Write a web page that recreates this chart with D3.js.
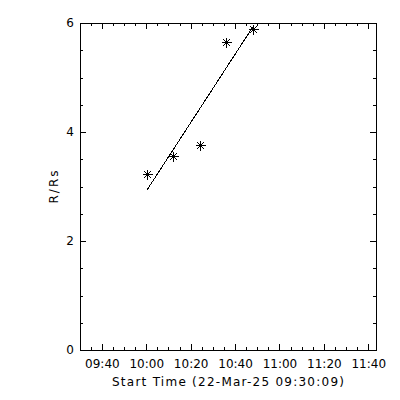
<!DOCTYPE html>
<html>
<head>
<meta charset="utf-8">
<script src="https://cdn.jsdelivr.net/npm/d3@7"></script>
<style>
  body { margin: 0; background: #fff; }
  text { font-family: "DejaVu Sans", sans-serif; font-size: 12px; fill: #000; }
</style>
</head>
<body>
<svg id="chart"></svg>
<script>
// observation times (UT) and heights in solar radii
const obsDate = "2025-03-22";
const startTime = "09:30:09";
const obsTimes = ["10:00:24", "10:11:54", "10:24:12", "10:35:55", "10:48:12"];
const heights = [3.23, 3.56, 3.77, 5.65, 5.89];

// linear fit line, end points
const fitTimes = ["10:00:24", "10:48:12"];
const fitHeights = [2.94, 5.94];

const yMajor = [0, 2, 4, 6];
const xLabel = "Start Time (22-Mar-25 09:30:09)";
const yLabel = "R/Rs";

const width = 400, height = 400;
const parse = d3.utcParse("%Y-%m-%d %H:%M:%S");
const t0 = parse(obsDate + " " + startTime);
const t1 = new Date(t0.getTime() + 8000 * 1000);

const x = d3.scaleUtc().domain([t0, t1]).range([80, 376]);
const y = d3.scaleLinear().domain([0, 6]).range([350, 23]);

const svg = d3.select("#chart")
    .attr("width", width)
    .attr("height", height);

svg.append("rect")
    .attr("width", width).attr("height", height)
    .attr("fill", "#fff");

// axes: major + minor ticks on all four sides, pointing inward
function styleAxis(g) {
    g.select(".domain").remove();
    g.selectAll("line").attr("stroke", "#000").attr("shape-rendering", "crispEdges");
    g.attr("font-size", null).attr("font-family", null);
}

const fmt = d3.utcFormat("%H:%M");

svg.append("g")
    .attr("transform", "translate(0,350)")
    .call(d3.axisBottom(x).ticks(d3.utcMinute.every(20)).tickFormat(fmt)
        .tickSizeInner(-6).tickSizeOuter(0).tickPadding(9))
    .call(styleAxis);
svg.append("g")
    .attr("transform", "translate(0,350)")
    .call(d3.axisBottom(x).ticks(d3.utcMinute.every(5)).tickFormat("")
        .tickSizeInner(-3).tickSizeOuter(0))
    .call(styleAxis);
svg.append("g")
    .attr("transform", "translate(0,23)")
    .call(d3.axisTop(x).ticks(d3.utcMinute.every(20)).tickFormat("")
        .tickSizeInner(-6).tickSizeOuter(0))
    .call(styleAxis);
svg.append("g")
    .attr("transform", "translate(0,23)")
    .call(d3.axisTop(x).ticks(d3.utcMinute.every(5)).tickFormat("")
        .tickSizeInner(-3).tickSizeOuter(0))
    .call(styleAxis);

svg.append("g")
    .attr("transform", "translate(80,0)")
    .call(d3.axisLeft(y).tickValues(yMajor).tickFormat(d3.format("d"))
        .tickSizeInner(-6).tickSizeOuter(0).tickPadding(6))
    .call(styleAxis);
svg.append("g")
    .attr("transform", "translate(80,0)")
    .call(d3.axisLeft(y).ticks(12).tickFormat("")
        .tickSizeInner(-3).tickSizeOuter(0))
    .call(styleAxis);
svg.append("g")
    .attr("transform", "translate(376,0)")
    .call(d3.axisRight(y).tickValues(yMajor).tickFormat("")
        .tickSizeInner(-6).tickSizeOuter(0))
    .call(styleAxis);
svg.append("g")
    .attr("transform", "translate(376,0)")
    .call(d3.axisRight(y).ticks(12).tickFormat("")
        .tickSizeInner(-3).tickSizeOuter(0))
    .call(styleAxis);

// plot frame
svg.append("rect")
    .attr("x", 80.5).attr("y", 23.5)
    .attr("width", 296).attr("height", 327)
    .attr("fill", "none").attr("stroke", "#000")
    .attr("shape-rendering", "crispEdges");

// axis titles
svg.append("text")
    .attr("x", 228).attr("y", 386)
    .attr("text-anchor", "middle")
    .attr("textLength", 232).attr("lengthAdjust", "spacing")
    .text(xLabel);

svg.append("text")
    .attr("transform", "translate(58,187) rotate(-90)")
    .attr("text-anchor", "middle")
    .attr("textLength", 33).attr("lengthAdjust", "spacing")
    .text(yLabel);

// fit line
const fit = fitTimes.map((t, i) => ({ t: parse(obsDate + " " + t), r: fitHeights[i] }));
svg.append("path")
    .datum(fit)
    .attr("fill", "none").attr("stroke", "#000").attr("stroke-width", 1)
    .attr("shape-rendering", "crispEdges")
    .attr("d", d3.line().x(d => x(d.t)).y(d => y(d.r)));

// asterisk symbols
const pts = obsTimes.map((t, i) => ({ t: parse(obsDate + " " + t), r: heights[i] }));
const r = 5, dg = 3.6;
const star = `M${-r},0H${r}M0,${-r}V${r}M${-dg},${-dg}L${dg},${dg}M${-dg},${dg}L${dg},${-dg}`;
svg.append("g")
    .selectAll("path")
    .data(pts)
    .join("path")
    .attr("transform", d => `translate(${Math.round(x(d.t)) + 0.5},${Math.round(y(d.r)) + 0.5})`)
    .attr("d", star)
    .attr("fill", "none").attr("stroke", "#000").attr("stroke-width", 1)
    .attr("shape-rendering", "crispEdges");
</script>
</body>
</html>
